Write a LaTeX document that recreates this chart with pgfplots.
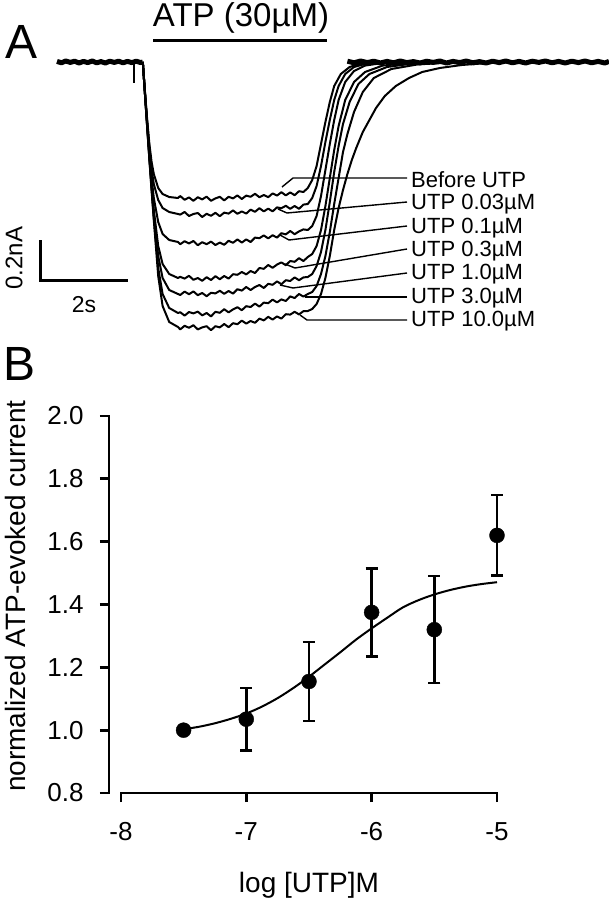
\documentclass[border=0pt]{standalone}
\usepackage{pgfplots}
\pgfplotsset{compat=1.18}
\usepackage{fontspec}
\setmainfont{Liberation Sans}
\begin{document}
\begin{tikzpicture}[x=1pt,y=1pt]
\useasboundingbox (0,0) rectangle (609,-899);
% ---------------- Panel A ----------------
\begin{axis}[at={(57pt,-342pt)},anchor=south west,scale only axis,
  width=552pt,height=300pt,xmin=0,xmax=12.545,ymin=-1.4,ymax=0.1,
  hide axis,clip=false,
  tr/.style={black,solid,line width=2pt,line join=round,no markers}]
% baseline (all traces overlapping)
\addplot[tr,line width=5pt] coordinates {(0,0.003) (0.1,-0.004) (0.2,0.005) (0.3,-0.002) (0.4,0.004) (0.5,-0.005) (0.6,0.003) (0.7,-0.003) (0.8,0.005) (0.9,-0.004) (1.0,0.002) (1.1,-0.005) (1.2,0.004) (1.3,-0.002) (1.4,0.004) (1.5,-0.004) (1.6,0.003) (1.7,-0.003) (1.8,0.004) (1.9,-0.003) (1.95,0)};
\addplot[tr,line width=1.2pt] coordinates {(1.75,0) (1.75,-0.105)};
\addplot[tr,line width=5pt] coordinates {(6.6,0.004) (6.75,-0.004) (6.9,0.005) (7.05,-0.003) (7.2,0.004) (7.35,-0.005) (7.5,0.003) (7.65,-0.004) (7.8,0.005) (7.95,-0.003) (8.1,0.002) (8.25,-0.005) (8.4,0.004) (8.55,-0.002) (8.7,0.005) (8.85,-0.005) (9.0,0.003) (9.15,-0.003) (9.3,0.005) (9.45,-0.004) (9.6,0.002) (9.75,-0.005) (9.9,0.004) (10.05,-0.003) (10.2,0.005) (10.35,-0.004) (10.5,0.003) (10.65,-0.005) (10.8,0.004) (10.95,-0.002) (11.1,0.005) (11.25,-0.004) (11.4,0.003) (11.55,-0.005) (11.7,0.004) (11.85,-0.003) (12.0,0.005) (12.15,-0.004) (12.3,0.003) (12.45,-0.005) (12.545,0.003)};
% Before UTP
\addplot[tr] coordinates {(1.95,0) (2.0,-0.15) (2.05,-0.29) (2.1,-0.41) (2.15,-0.50) (2.2,-0.56) (2.3,-0.63) (2.4,-0.66) (2.55,-0.675) (2.75,-0.68)
(2.8,-0.670) (2.9,-0.689) (3.0,-0.677) (3.1,-0.694) (3.2,-0.676) (3.3,-0.687) (3.4,-0.673) (3.5,-0.694) (3.6,-0.682) (3.7,-0.674) (3.8,-0.692) (3.9,-0.674) (4.0,-0.682) (4.1,-0.667) (4.2,-0.685) (4.3,-0.668) (4.4,-0.674) (4.5,-0.659) (4.6,-0.676) (4.7,-0.665) (4.8,-0.676) (4.9,-0.657) (5.0,-0.668) (5.1,-0.651) (5.2,-0.667) (5.3,-0.652) (5.4,-0.666) (5.5,-0.646) (5.6,-0.650)
(5.7,-0.63) (5.8,-0.59) (5.9,-0.52) (6.0,-0.41) (6.1,-0.30) (6.2,-0.20) (6.3,-0.12) (6.45,-0.06) (6.65,-0.025) (6.9,-0.008) (7.3,0)};
% UTP 0.03
\addplot[tr] coordinates {(1.95,0) (2.0,-0.155) (2.05,-0.30) (2.1,-0.43) (2.15,-0.54) (2.2,-0.61) (2.3,-0.69) (2.4,-0.73) (2.55,-0.75) (2.75,-0.76)
(2.8,-0.763) (2.9,-0.750) (3.0,-0.770) (3.1,-0.760) (3.2,-0.755) (3.3,-0.775) (3.4,-0.759) (3.5,-0.769) (3.6,-0.754) (3.7,-0.771) (3.8,-0.753) (3.9,-0.758) (4.0,-0.742) (4.1,-0.759) (4.2,-0.747) (4.3,-0.758) (4.4,-0.738) (4.5,-0.749) (4.6,-0.731) (4.7,-0.747) (4.8,-0.733) (4.9,-0.747) (5.0,-0.727) (5.1,-0.731) (5.2,-0.719) (5.3,-0.734) (5.4,-0.720) (5.5,-0.734) (5.6,-0.713)
(5.7,-0.71) (5.8,-0.68) (5.9,-0.62) (6.0,-0.52) (6.1,-0.40) (6.2,-0.29) (6.3,-0.19) (6.4,-0.12) (6.55,-0.06) (6.75,-0.025) (7.0,-0.01) (7.5,0)};
% UTP 0.1
\addplot[tr] coordinates {(1.95,0) (2.0,-0.16) (2.05,-0.31) (2.1,-0.45) (2.15,-0.58) (2.2,-0.68) (2.3,-0.80) (2.4,-0.86) (2.55,-0.89) (2.75,-0.90)
(2.8,-0.911) (2.9,-0.896) (3.0,-0.907) (3.1,-0.895) (3.2,-0.916) (3.3,-0.901) (3.4,-0.911) (3.5,-0.898) (3.6,-0.915) (3.7,-0.903) (3.8,-0.914) (3.9,-0.894) (4.0,-0.904) (4.1,-0.887) (4.2,-0.903) (4.3,-0.887) (4.4,-0.900) (4.5,-0.878) (4.6,-0.881) (4.7,-0.867) (4.8,-0.882) (4.9,-0.866) (5.0,-0.878) (5.1,-0.856) (5.2,-0.862) (5.3,-0.845) (5.4,-0.861) (5.5,-0.847) (5.6,-0.837)
(5.7,-0.84) (5.8,-0.82) (5.9,-0.77) (6.0,-0.67) (6.1,-0.54) (6.2,-0.41) (6.3,-0.29) (6.4,-0.19) (6.55,-0.10) (6.75,-0.045) (7.0,-0.018) (7.4,-0.005) (7.9,0)};
% UTP 0.3
\addplot[tr] coordinates {(1.95,0) (2.0,-0.16) (2.05,-0.32) (2.1,-0.47) (2.15,-0.61) (2.2,-0.74) (2.3,-0.92) (2.4,-1.01) (2.55,-1.06) (2.75,-1.08)
(2.8,-1.074) (2.9,-1.083) (3.0,-1.069) (3.1,-1.089) (3.2,-1.080) (3.3,-1.094) (3.4,-1.076) (3.5,-1.090) (3.6,-1.071) (3.7,-1.086) (3.8,-1.070) (3.9,-1.083) (4.0,-1.061) (4.1,-1.064) (4.2,-1.050) (4.3,-1.062) (4.4,-1.045) (4.5,-1.055) (4.6,-1.030) (4.7,-1.034) (4.8,-1.015) (4.9,-1.029) (5.0,-1.013) (5.1,-1.002) (5.2,-1.016) (5.3,-0.995) (5.4,-0.999) (5.5,-0.981) (5.6,-0.995)
(5.7,-0.975) (5.8,-0.96) (5.9,-0.92) (6.0,-0.84) (6.1,-0.72) (6.2,-0.58) (6.3,-0.44) (6.4,-0.32) (6.55,-0.19) (6.75,-0.10) (7.0,-0.05) (7.4,-0.018) (8.0,-0.005) (8.5,0)};
% UTP 1.0
\addplot[tr] coordinates {(1.95,0) (2.0,-0.16) (2.05,-0.32) (2.1,-0.48) (2.15,-0.62) (2.2,-0.76) (2.3,-0.97) (2.4,-1.08) (2.55,-1.14) (2.75,-1.16)
(2.8,-1.165) (2.9,-1.148) (3.0,-1.161) (3.1,-1.147) (3.2,-1.166) (3.3,-1.155) (3.4,-1.171) (3.5,-1.154) (3.6,-1.157) (3.7,-1.144) (3.8,-1.159) (3.9,-1.145) (4.0,-1.158) (4.1,-1.136) (4.2,-1.143) (4.3,-1.125) (4.4,-1.140) (4.5,-1.125) (4.6,-1.115) (4.7,-1.130) (4.8,-1.109) (4.9,-1.114) (5.0,-1.097) (5.1,-1.111) (5.2,-1.091) (5.3,-1.095) (5.4,-1.077) (5.5,-1.091) (5.6,-1.077)
(5.7,-1.075) (5.8,-1.06) (5.9,-1.02) (6.0,-0.95) (6.1,-0.84) (6.2,-0.70) (6.3,-0.55) (6.4,-0.42) (6.5,-0.31) (6.65,-0.20) (6.85,-0.11) (7.1,-0.06) (7.5,-0.025) (8.0,-0.01) (8.8,0)};
% UTP 3.0
\addplot[tr] coordinates {(1.95,0) (2.0,-0.165) (2.05,-0.325) (2.1,-0.485) (2.15,-0.635) (2.2,-0.78) (2.3,-1.03) (2.4,-1.16) (2.55,-1.23) (2.75,-1.255)
(2.8,-1.251) (2.9,-1.268) (3.0,-1.250) (3.1,-1.257) (3.2,-1.248) (3.3,-1.267) (3.4,-1.255) (3.5,-1.272) (3.6,-1.249) (3.7,-1.254) (3.8,-1.236) (3.9,-1.252) (4.0,-1.237) (4.1,-1.226) (4.2,-1.241) (4.3,-1.221) (4.4,-1.225) (4.5,-1.208) (4.6,-1.223) (4.7,-1.203) (4.8,-1.206) (4.9,-1.188) (5.0,-1.202) (5.1,-1.187) (5.2,-1.195) (5.3,-1.172) (5.4,-1.180) (5.5,-1.160) (5.6,-1.173)
(5.7,-1.16) (5.8,-1.15) (5.9,-1.12) (6.0,-1.06) (6.1,-0.97) (6.2,-0.85) (6.3,-0.71) (6.4,-0.58) (6.5,-0.45) (6.6,-0.36) (6.75,-0.25) (6.95,-0.15) (7.2,-0.08) (7.6,-0.035) (8.2,-0.012) (9.2,0)};
% UTP 10.0
\addplot[tr] coordinates {(1.95,0) (2.0,-0.165) (2.05,-0.33) (2.1,-0.49) (2.15,-0.645) (2.2,-0.79) (2.3,-1.07) (2.4,-1.22) (2.55,-1.30) (2.75,-1.325)
(2.8,-1.337) (2.9,-1.319) (3.0,-1.329) (3.1,-1.316) (3.2,-1.337) (3.3,-1.327) (3.4,-1.321) (3.5,-1.341) (3.6,-1.321) (3.7,-1.327) (3.8,-1.310) (3.9,-1.326) (4.0,-1.306) (4.1,-1.311) (4.2,-1.293) (4.3,-1.308) (4.4,-1.295) (4.5,-1.304) (4.6,-1.283) (4.7,-1.292) (4.8,-1.274) (4.9,-1.288) (5.0,-1.272) (5.1,-1.283) (5.2,-1.261) (5.3,-1.263) (5.4,-1.249) (5.5,-1.262) (5.6,-1.246)
(5.7,-1.245) (5.8,-1.235) (5.9,-1.21) (6.0,-1.16) (6.1,-1.08) (6.2,-0.97) (6.3,-0.84) (6.4,-0.73) (6.5,-0.64) (6.6,-0.56) (6.7,-0.49) (6.8,-0.43) (6.95,-0.35) (7.1,-0.29) (7.25,-0.23) (7.45,-0.17) (7.7,-0.12) (8.0,-0.08) (8.3,-0.05) (8.7,-0.03) (9.2,-0.015) (9.8,-0.005) (10.4,0)};
\end{axis}
% annotations panel A
\node[inner sep=0,font=\fontsize{48}{48}\selectfont] at (22,-42) {A};
\node[inner sep=0,font=\fontsize{33}{33}\selectfont] at (241,-18) {ATP (30µM)};
\draw[line width=3pt] (153,-41) -- (327,-41);
\draw[line width=3pt] (40,-240) -- (40,-280) -- (128,-280);
\node[inner sep=0,rotate=90,font=\fontsize{24}{24}\selectfont] at (14,-258) {0.2nA};
\node[inner sep=0,font=\fontsize{23}{23}\selectfont] at (84,-305) {2s};
\begin{scope}[line width=1.4pt]
\draw (407,-178) -- (293,-178) -- (282,-187);
\draw (407,-202) -- (287,-213) -- (278,-209);
\draw (407,-226) -- (289,-240) -- (280,-235);
\draw (407,-249) -- (295,-268) -- (285,-264);
\draw (407,-273) -- (293,-288) -- (280,-285);
\draw (407,-297) -- (305,-297);
\draw (407,-320) -- (307,-320) -- (300,-315);
\end{scope}
\begin{scope}[every node/.style={anchor=west,inner sep=0,font=\fontsize{22}{22}\selectfont}]
\node at (411,-180) {Before UTP};
\node at (411,-204) {UTP 0.03µM};
\node at (411,-228) {UTP 0.1µM};
\node at (411,-251) {UTP 0.3µM};
\node at (411,-274) {UTP 1.0µM};
\node at (411,-298) {UTP 3.0µM};
\node at (411,-321) {UTP 10.0µM};
\end{scope}
% ---------------- Panel B ----------------
\node[inner sep=0,font=\fontsize{48}{48}\selectfont] at (20,-364) {B};
\begin{axis}[at={(109pt,-793pt)},anchor=south west,scale only axis,
  width=388pt,height=377pt,xmin=-8.095,xmax=-5,ymin=0.8,ymax=2.0,clip=false,
  axis x line*=bottom,axis y line*=left,axis line style={draw=none},
  xtick={-8,-7,-6,-5},xticklabels={-8,-7,-6,-5},
  ytick={0.8,1.0,1.2,1.4,1.6,1.8,2.0},yticklabels={0.8,1.0,1.2,1.4,1.6,1.8,2.0},
  tick align=outside,major tick length=9pt,
  tick style={line width=2.7pt,black},
  tick label style={font=\fontsize{26}{26}\selectfont},
  yticklabel style={xshift=-13pt},
  xticklabel style={yshift=-17pt}]
\draw[line width=2.7pt,line cap=rect] (axis cs:-8.095,0.8) -- (axis cs:-8.095,2.0);
\draw[line width=2.7pt,line cap=rect] (axis cs:-8,0.8) -- (axis cs:-5,0.8);
\addplot[black,line width=2pt,smooth,no markers] coordinates {(-7.5,1.003) (-7.375,1.011) (-7.25,1.022) (-7.125,1.036) (-7,1.053) (-6.875,1.075) (-6.75,1.102) (-6.625,1.134) (-6.5,1.170) (-6.375,1.209) (-6.25,1.248) (-6.125,1.288) (-6,1.324) (-5.875,1.358) (-5.75,1.391) (-5.625,1.414) (-5.5,1.432) (-5.375,1.446) (-5.25,1.457) (-5.125,1.465) (-5,1.471)};
\addplot[black,only marks,mark=*,mark size=7.5pt,
  error bars/.cd,y dir=both,y explicit,error mark=|,
  error bar style={line width=2.5pt,black},
  error mark options={line width=2.5pt,mark size=6pt,black}]
  coordinates {(-7.5,1.0) +- (0,0) (-7,1.035) +- (0,0.10) (-6.5,1.155) +- (0,0.125) (-6,1.375) +- (0,0.14) (-5.5,1.32) +- (0,0.17) (-5,1.62) +- (0,0.128)};
\end{axis}
\node[inner sep=0,rotate=90,font=\fontsize{28}{28}\selectfont] at (15,-596) {normalized ATP-evoked current};
\node[inner sep=0,font=\fontsize{28}{28}\selectfont] at (309,-885) {log [UTP]M};
\end{tikzpicture}
\end{document}
